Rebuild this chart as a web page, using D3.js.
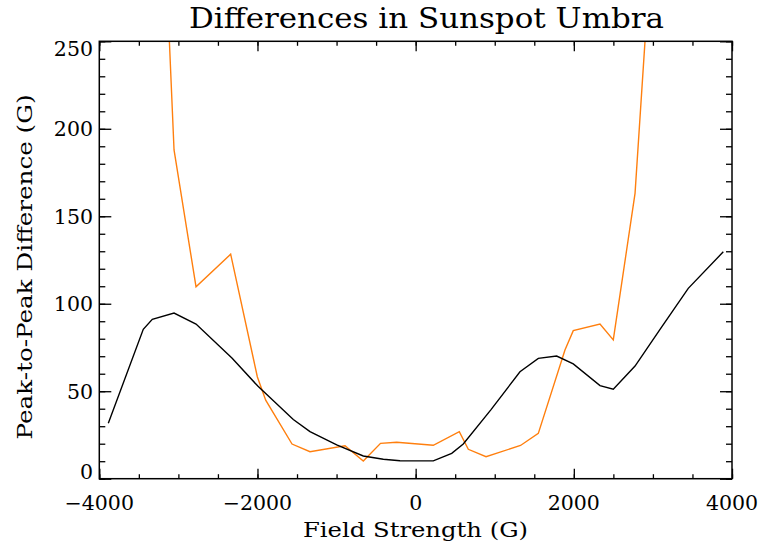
<!DOCTYPE html>
<html>
<head>
<meta charset="utf-8">
<script src="https://cdn.jsdelivr.net/npm/d3@7"></script>
<style>
  body { margin: 0; background: #fff; }
  text { font-family: "DejaVu Serif", serif; fill: #000; }
</style>
</head>
<body>
<div id="chart"></div>
<script>
////////////////////////////////////////////////////
// data
////////////////////////////////////////////////////
var blackX = [-3886, -3444, -3330, -3055, -2777, -2320, -1993, -1547, -1336, -998, -662, -409, -198, 223, 456, 602, 953, 1319, 1551, 1783, 1993, 2331, 2499, 2774, 3090, 3447, 3890];
var blackY = [31.7, 85.4, 91.1, 94.7, 88.4, 68.9, 52.8, 33.8, 26.9, 19.3, 13.0, 11.1, 10.3, 10.2, 14.5, 19.8, 39.5, 61.1, 68.8, 70.1, 65.6, 53.2, 51.1, 64.4, 85.4, 108.8, 129.7];

var orangeX = [-3330, -3055, -2777, -2339, -2002, -1896, -1563, -1336, -893, -662, -444, -240, 223, 552, 666, 890, 1326, 1551, 1888, 1993, 2331, 2499, 2774, 3090];
var orangeY = [478, 187.9, 109.7, 128.3, 58.3, 44.9, 19.8, 15.4, 18.8, 10.1, 20.2, 20.8, 19.1, 26.9, 16.8, 12.6, 19.0, 25.9, 73.6, 84.6, 88.4, 79.3, 163.1, 381];

var xMajor = [-4000, -2000, 0, 2000, 4000];
var yMajor = [0, 50, 100, 150, 200, 250];

var titleText = "Differences in Sunspot Umbra";
var xTitle = "Field Strength (G)";
var yTitle = "Peak-to-Peak Difference (G)";
////////////////////////////////////////////////////

function buildChart() {
	var W = 761, H = 544;
	var pL = 99.3, pR = 732, pT = 41.3, pB = 478.7;

	var svg = d3.select("#chart").append("svg")
		.attr("width", W)
		.attr("height", H);

	var x = d3.scaleLinear().domain([-4000, 4000]).range([pL, pR]);
	var y = d3.scaleLinear().domain([0, 250]).range([pB, pT]);

	var xMinor = d3.range(-4000, 4001, 500);
	var yMinor = d3.range(0, 251, 10);

	// clip for the curves
	svg.append("clipPath").attr("id", "plotclip")
		.append("rect")
			.attr("x", pL).attr("y", pT)
			.attr("width", pR - pL).attr("height", pB - pT);

	var line = d3.line()
		.x(function(d){ return x(d[0]); })
		.y(function(d){ return y(d[1]); });

	var curves = svg.append("g").attr("clip-path", "url(#plotclip)");

	curves.append("path")
		.datum(d3.zip(orangeX, orangeY))
		.attr("fill", "none")
		.attr("stroke", "#ff7f0e")
		.attr("stroke-width", 1.4)
		.attr("d", line);

	curves.append("path")
		.datum(d3.zip(blackX, blackY))
		.attr("fill", "none")
		.attr("stroke", "#000")
		.attr("stroke-width", 1.4)
		.attr("d", line);

	// ticks on all four sides, pointing inward
	function ticks(axisFn, scale, vals, size, tr) {
		var g = svg.append("g")
			.attr("transform", tr)
			.call(axisFn(scale).tickValues(vals).tickSize(size).tickFormat(""));
		g.select(".domain").remove();
		g.selectAll("line").attr("stroke", "#000").attr("stroke-width", 1.3);
		return g;
	}
	ticks(d3.axisTop, x, xMinor, 4.5, "translate(0," + pB + ")");
	ticks(d3.axisTop, x, xMajor, 10, "translate(0," + pB + ")");
	ticks(d3.axisBottom, x, xMinor, 4.5, "translate(0," + pT + ")");
	ticks(d3.axisBottom, x, xMajor, 10, "translate(0," + pT + ")");
	ticks(d3.axisRight, y, yMinor, 6, "translate(" + pL + ",0)");
	ticks(d3.axisRight, y, yMajor, 12, "translate(" + pL + ",0)");
	ticks(d3.axisLeft, y, yMinor, 6, "translate(" + pR + ",0)");
	ticks(d3.axisLeft, y, yMajor, 12, "translate(" + pR + ",0)");

	// frame
	svg.append("rect")
		.attr("x", pL).attr("y", pT)
		.attr("width", pR - pL).attr("height", pB - pT)
		.attr("fill", "none")
		.attr("stroke", "#000")
		.attr("stroke-width", 1.5);

	// tick labels
	var fmt = d3.format("d");
	svg.append("g").selectAll("text")
		.data(xMajor)
		.enter().append("text")
			.attr("x", function(d){ return x(d); })
			.attr("y", 510)
			.attr("text-anchor", "middle")
			.style("font-size", "20.5px")
			.text(function(d){ return fmt(d); });

	svg.append("g").selectAll("text")
		.data(yMajor)
		.enter().append("text")
			.attr("x", 93)
			.attr("y", function(d){
				var p = y(d);
				// keep the end labels inside the frame
				p = Math.max(pT + 7, Math.min(pB - 7, p));
				return p + 7.3;
			})
			.attr("text-anchor", "end")
			.style("font-size", "20.5px")
			.text(function(d){ return fmt(d); });

	// titles
	svg.append("text")
		.attr("x", 426.5).attr("y", 28)
		.attr("text-anchor", "middle")
		.attr("textLength", 475)
		.attr("lengthAdjust", "spacingAndGlyphs")
		.style("font-size", "27px")
		.text(titleText);

	svg.append("text")
		.attr("x", 415.5).attr("y", 537)
		.attr("text-anchor", "middle")
		.attr("textLength", 225)
		.attr("lengthAdjust", "spacingAndGlyphs")
		.style("font-size", "20px")
		.text(xTitle);

	svg.append("text")
		.attr("transform", "translate(32,267) rotate(-90)")
		.attr("text-anchor", "middle")
		.attr("textLength", 345)
		.attr("lengthAdjust", "spacingAndGlyphs")
		.style("font-size", "20px")
		.text(yTitle);
}
buildChart();
</script>
</body>
</html>
